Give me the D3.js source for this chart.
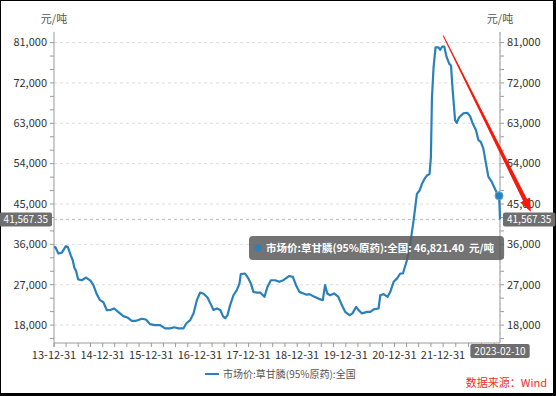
<!DOCTYPE html>
<html>
<head>
<meta charset="utf-8">
<script src="https://cdn.jsdelivr.net/npm/d3@7"></script>
<style>
  body { margin: 0; background: #000; }
  svg { display: block; font-family: "Noto Sans CJK SC", "Noto Sans", sans-serif; }
</style>
</head>
<body>
<div id="chart"></div>
<script>
// price series: 市场价:草甘膦(95%原药):全国, 元/吨
const dates = [
  "2013-12-31","2014-01-10","2014-02-02","2014-02-28","2014-03-30","2014-04-14","2014-05-06","2014-05-21",
  "2014-06-02","2014-06-15","2014-06-30","2014-07-28","2014-08-29","2014-10-03","2014-10-23","2014-11-17",
  "2014-12-12","2015-01-06","2015-02-01","2015-03-03","2015-03-28","2015-04-29","2015-06-05","2015-07-05",
  "2015-08-07","2015-09-09","2015-10-22","2015-11-21","2015-12-23","2016-01-29","2016-03-07","2016-04-14",
  "2016-05-21","2016-06-20","2016-07-23","2016-08-29","2016-09-19","2016-10-19","2016-11-13","2016-12-08",
  "2017-01-02","2017-01-27","2017-02-26","2017-03-26","2017-04-12","2017-05-08","2017-06-02","2017-06-22",
  "2017-07-09","2017-07-26","2017-08-15","2017-09-09","2017-10-04","2017-10-24","2017-11-03","2017-12-05",
  "2017-12-31","2018-01-18","2018-02-06","2018-03-04","2018-03-29","2018-04-30","2018-05-22","2018-06-17",
  "2018-07-19","2018-08-20","2018-09-19","2018-11-03","2018-11-29","2018-12-23","2019-01-17","2019-02-17",
  "2019-03-14","2019-04-02","2019-05-02","2019-06-09","2019-07-12","2019-07-29","2019-08-15","2019-09-05",
  "2019-10-05","2019-11-06","2019-12-02","2019-12-27","2020-01-28","2020-02-20","2020-03-19","2020-04-05",
  "2020-05-01","2020-06-08","2020-07-03","2020-07-28","2020-09-03","2020-09-16","2020-10-11","2020-11-10",
  "2020-11-30","2020-12-25","2021-01-19","2021-02-13","2021-03-05","2021-04-04","2021-04-29","2021-05-24",
  "2021-06-18","2021-07-08","2021-07-26","2021-08-14","2021-09-01","2021-09-21","2021-10-01","2021-10-09",
  "2021-10-21","2021-11-05","2021-11-27","2021-12-10","2021-12-25","2022-01-09","2022-01-26","2022-02-14",
  "2022-02-26","2022-03-10","2022-03-27","2022-04-08","2022-04-24","2022-05-25","2022-06-22","2022-07-12",
  "2022-07-31","2022-08-23","2022-09-09","2022-09-26","2022-10-14","2022-11-02","2022-11-19","2022-12-13",
  "2022-12-29","2023-01-21","2023-02-03","2023-02-07","2023-02-10"
];
const prices = [
  35300,35400,33950,34150,35600,35400,33550,32450,
  30800,30050,28200,28000,28600,27850,26900,24900,
  23550,23100,21300,21400,21700,20900,20000,19700,
  18950,18950,19400,19250,18200,18000,18000,17250,
  17250,17500,17250,17250,18350,19100,20600,23550,
  25250,25000,24150,22450,21350,21700,21350,20000,
  19500,20200,22450,24650,25800,27250,29350,29500,
  28350,27250,25400,25250,25250,24300,26500,28000,
  28000,27650,28000,28950,28750,26900,25400,25050,
  24750,24900,24450,23900,23550,26900,25050,24650,
  25050,24300,22450,20950,20200,20600,22050,21350,
  20600,20950,20950,21500,21700,24650,24900,24300,
  25400,27650,28350,29500,29500,32450,36150,41300,
  47250,48000,49500,50600,51350,51700,55400,68700,
  75400,79950,79950,79400,80100,80100,77750,76250,
  75900,70350,63700,63100,64300,65200,65350,64600,
  62950,61450,59250,58850,57400,54050,51100,49950,
  48850,47350,46821.40,44300,41567.35
];
const yTicks = [18000, 27000, 36000, 45000, 54000, 63000, 72000, 81000];
const xTickDates = ["2013-12-31","2014-12-31","2015-12-31","2016-12-31","2017-12-31",
                    "2018-12-31","2019-12-31","2020-12-31","2021-12-31"];
const seriesName = "市场价:草甘膦(95%原药):全国";
const unit = "元/吨";
const hoverIndex = prices.indexOf(46821.40);   // tooltip point
const lastIndex = prices.length - 1;

const parse = d3.timeParse("%Y-%m-%d");
const data = dates.map((d, i) => ({ date: parse(d), value: prices[i] }));

const W = 556, H = 396;
const svg = d3.select("#chart").append("svg").attr("width", W).attr("height", H);

// frame
svg.append("rect").attr("x", 1).attr("y", 1).attr("width", 552).attr("height", 392).attr("fill", "#fff");

const pLeft = 54, pRight = 500, pTop = 32, pBottom = 343;

const x = d3.scaleTime()
  .domain([parse("2013-12-31"), parse("2021-12-31"), parse("2023-02-10")])
  .range([pLeft, 443, pRight]);
const y = d3.scaleLinear().domain([14000, 83360]).range([pBottom, pTop]);

const axisColor = "#9a9a9a", labelColor = "#333";

// grid
svg.append("g").selectAll("line").data(yTicks).join("line")
  .attr("x1", pLeft).attr("x2", pRight)
  .attr("y1", d => y(d)).attr("y2", d => y(d))
  .attr("stroke", "#ddd").attr("stroke-dasharray", "3,3");

// y minor ticks
const yMinor = d3.range(15000, 83000, 3000);

function yAxis(xPos, dir) {
  const g = svg.append("g");
  g.append("line").attr("x1", xPos).attr("x2", xPos).attr("y1", pTop).attr("y2", pBottom)
    .attr("stroke", axisColor);
  g.selectAll(".mn").data(yMinor).join("line")
    .attr("x1", xPos).attr("x2", xPos + dir * 4)
    .attr("y1", d => y(d)).attr("y2", d => y(d)).attr("stroke", axisColor);
  g.selectAll("text").data(yTicks).join("text")
    .attr("x", xPos + dir * 7).attr("y", d => y(d)).attr("dy", "0.35em")
    .attr("text-anchor", dir < 0 ? "end" : "start")
    .attr("font-size", 11).attr("fill", labelColor)
    .text(d => d3.format(",")(d));
  g.append("text").attr("x", xPos).attr("y", 23).attr("text-anchor", "middle")
    .attr("font-size", 11).attr("fill", "#555").text(unit);
}
yAxis(pLeft, -1);
yAxis(pRight, 1);

// x axis
const xMinor = d3.timeMonth.every(3).range(parse("2014-01-01"), parse("2023-02-10"));
const gx = svg.append("g");
gx.append("line").attr("x1", pLeft).attr("x2", pRight).attr("y1", pBottom).attr("y2", pBottom)
  .attr("stroke", axisColor);
gx.selectAll(".mn").data([parse("2013-12-31")].concat(xMinor)).join("line")
  .attr("x1", d => x(d)).attr("x2", d => x(d))
  .attr("y1", pBottom).attr("y2", pBottom + 4).attr("stroke", axisColor);
gx.selectAll("text").data(xTickDates.map(parse)).join("text")
  .attr("x", d => x(d)).attr("y", pBottom + 16).attr("text-anchor", "middle")
  .attr("font-size", 11).attr("fill", labelColor)
  .text(d3.timeFormat("%y-%m-%d"));

// axis pointer lines
const last = data[lastIndex];
svg.append("line").attr("x1", pLeft).attr("x2", pRight)
  .attr("y1", y(last.value)).attr("y2", y(last.value))
  .attr("stroke", "#bbb").attr("stroke-dasharray", "3,3");
svg.append("line").attr("x1", x(last.date)).attr("x2", x(last.date))
  .attr("y1", pTop).attr("y2", pBottom)
  .attr("stroke", "#bbb").attr("stroke-dasharray", "3,3");

// line
const blue = "#2a80b9";
svg.append("path").datum(data)
  .attr("fill", "none").attr("stroke", blue).attr("stroke-width", 2.2)
  .attr("stroke-linejoin", "round")
  .attr("d", d3.line().x(d => x(d.date)).y(d => y(d.value)));

// hover point
const hp = data[hoverIndex];
svg.append("circle").attr("cx", x(hp.date)).attr("cy", y(hp.value)).attr("r", 4)
  .attr("fill", blue).attr("stroke", "#5aa4d4").attr("stroke-width", 1);

// red annotation arrow (tapered)
const a0 = [x(parse("2022-01-01")), y(82600)];
const a1 = [x(parse("2023-09-18")), y(43280)];
const ang = Math.atan2(a1[1] - a0[1], a1[0] - a0[0]);
const nx = -Math.sin(ang), ny = Math.cos(ang);
const headLen = 13, headW = 5.5;
const hb = [a1[0] - Math.cos(ang) * headLen, a1[1] - Math.sin(ang) * headLen];
const w0 = 0.5, w1 = 2.2;
svg.append("path")
  .attr("d", d3.line()([
    [a0[0] + nx * w0, a0[1] + ny * w0],
    [hb[0] + nx * w1, hb[1] + ny * w1],
    [hb[0] + nx * headW, hb[1] + ny * headW],
    a1,
    [hb[0] - nx * headW, hb[1] - ny * headW],
    [hb[0] - nx * w1, hb[1] - ny * w1],
    [a0[0] - nx * w0, a0[1] - ny * w0]
  ]) + "Z")
  .attr("fill", "#f21c0c");

// pointer labels
function tag(cx, cy, txt, anchor) {
  const g = svg.append("g");
  const t = g.append("text").attr("font-size", 10).attr("fill", "#fff").text(txt);
  const w = t.node().getComputedTextLength() + 8;
  const x0 = anchor === "end" ? cx - w : anchor === "middle" ? cx - w / 2 : cx;
  g.insert("rect", "text").attr("x", x0).attr("y", cy - 7).attr("width", w).attr("height", 14)
    .attr("rx", 2).attr("fill", "#6e6e6e");
  t.attr("x", x0 + 4).attr("y", cy).attr("dy", "0.35em");
}
const fmt2 = d3.format(",.2f");
tag(pLeft - 2, y(last.value), fmt2(last.value), "end");
tag(pRight + 3, y(last.value), fmt2(last.value), "start");
tag(x(last.date), pBottom + 8, d3.timeFormat("%Y-%m-%d")(last.date), "middle");

// tooltip
const tip = svg.append("g");
const tt = tip.append("text").attr("x", 266).attr("y", 248).attr("dy", "0.35em")
  .attr("font-size", 10.5).attr("font-weight", "bold").attr("fill", "#fff")
  .attr("xml:space", "preserve")
  .text(seriesName + ": " + fmt2(hp.value) + "  " + unit);
const tw = tt.node().getComputedTextLength();
tip.insert("rect", "text").attr("x", 249).attr("y", 236).attr("width", tw + 27).attr("height", 24)
  .attr("rx", 4).attr("fill", "rgba(90,90,90,0.85)");
tip.append("circle").attr("cx", 258).attr("cy", 248).attr("r", 3.5).attr("fill", blue);

// legend
svg.append("line").attr("x1", 205).attr("x2", 219).attr("y1", 374).attr("y2", 374)
  .attr("stroke", blue).attr("stroke-width", 2);
svg.append("text").attr("x", 223).attr("y", 374).attr("dy", "0.35em")
  .attr("font-size", 10).attr("fill", "#555").text(seriesName);

// source
svg.append("text").attr("x", 547).attr("y", 383).attr("dy", "0.35em").attr("text-anchor", "end")
  .attr("font-size", 11).attr("fill", "#e8302a").text("数据来源：Wind");
</script>
</body>
</html>
